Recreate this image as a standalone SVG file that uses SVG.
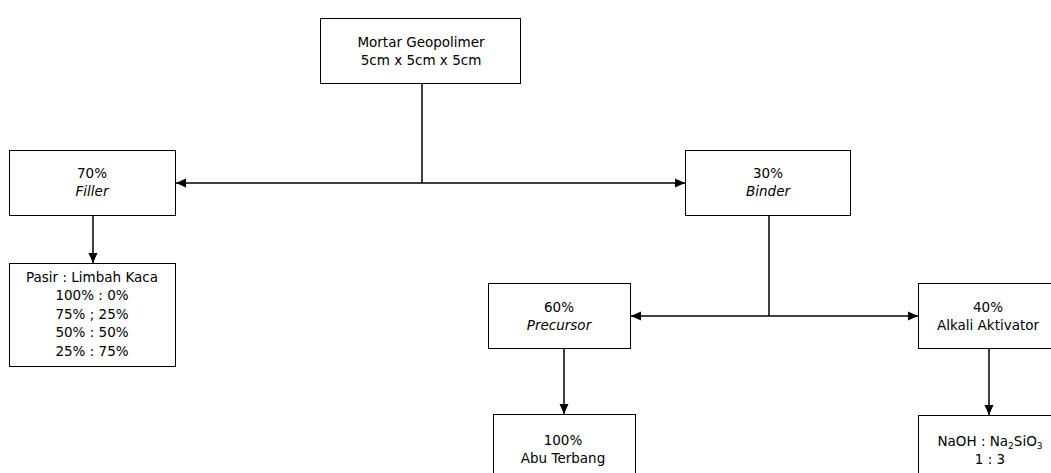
<svg xmlns="http://www.w3.org/2000/svg" width="1051" height="473" viewBox="0 0 1051 473">
<style>
.box{fill:#fff;stroke:#000;stroke-width:1}
.ln{fill:none;stroke:#000;stroke-width:1.5}
text{font-family:"DejaVu Sans",Verdana,sans-serif;font-size:13.5px;fill:#000;text-anchor:middle}
.it{font-style:italic}
</style>
<defs>
<marker id="ah" viewBox="0 0 10 10" refX="10" refY="5" markerWidth="10" markerHeight="10" markerUnits="userSpaceOnUse" orient="auto-start-reverse">
<path d="M0,0.5 L10,5 L0,9.5 Z" fill="#000"/>
</marker>
</defs>
<g id="connectors">
<line class="ln" x1="422" y1="83" x2="422" y2="183"/>
<line class="ln" x1="176" y1="183" x2="685" y2="183" marker-start="url(#ah)" marker-end="url(#ah)"/>
<line class="ln" x1="93" y1="216" x2="93" y2="263" marker-end="url(#ah)"/>
<line class="ln" x1="769" y1="216" x2="769" y2="316"/>
<line class="ln" x1="631" y1="316" x2="918" y2="316" marker-start="url(#ah)" marker-end="url(#ah)"/>
<line class="ln" x1="564" y1="349" x2="564" y2="414" marker-end="url(#ah)"/>
<line class="ln" x1="989" y1="349" x2="989" y2="415" marker-end="url(#ah)"/>
</g>
<g id="mortar">
<rect class="box" x="320.5" y="18.5" width="200" height="65"/>
<text x="421" y="47">Mortar Geopolimer</text>
<text x="421" y="65">5cm x 5cm x 5cm</text>
</g>
<g id="filler">
<rect class="box" x="9.5" y="150.5" width="166" height="65"/>
<text x="92" y="178">70%</text>
<text x="92" y="196" class="it">Filler</text>
</g>
<g id="binder">
<rect class="box" x="685.5" y="150.5" width="165" height="65"/>
<text x="768" y="178">30%</text>
<text x="768" y="196" class="it">Binder</text>
</g>
<g id="pasir">
<rect class="box" x="9.5" y="263.5" width="166" height="103"/>
<text x="92" y="282">Pasir : Limbah Kaca</text>
<text x="92" y="300">100% : 0%</text>
<text x="92" y="318.5">75% ; 25%</text>
<text x="92" y="337">50% : 50%</text>
<text x="92" y="355.5">25% : 75%</text>
</g>
<g id="precursor">
<rect class="box" x="488.5" y="283.5" width="142" height="65"/>
<text x="559" y="312">60%</text>
<text x="559" y="330" class="it">Precursor</text>
</g>
<g id="alkali">
<rect class="box" x="918.5" y="283.5" width="143" height="65"/>
<text x="988" y="312">40%</text>
<text x="988" y="330">Alkali Aktivator</text>
</g>
<g id="abu">
<rect class="box" x="493.5" y="414.5" width="142" height="70"/>
<text x="563" y="445">100%</text>
<text x="563" y="463">Abu Terbang</text>
</g>
<g id="naoh">
<rect class="box" x="918.5" y="415.5" width="143" height="70"/>
<text x="990" y="446">NaOH : Na<tspan font-size="9" dy="3">2</tspan><tspan dy="-3">SiO</tspan><tspan font-size="9" dy="3">3</tspan></text>
<text x="990" y="464">1 : 3</text>
</g>
</svg>
